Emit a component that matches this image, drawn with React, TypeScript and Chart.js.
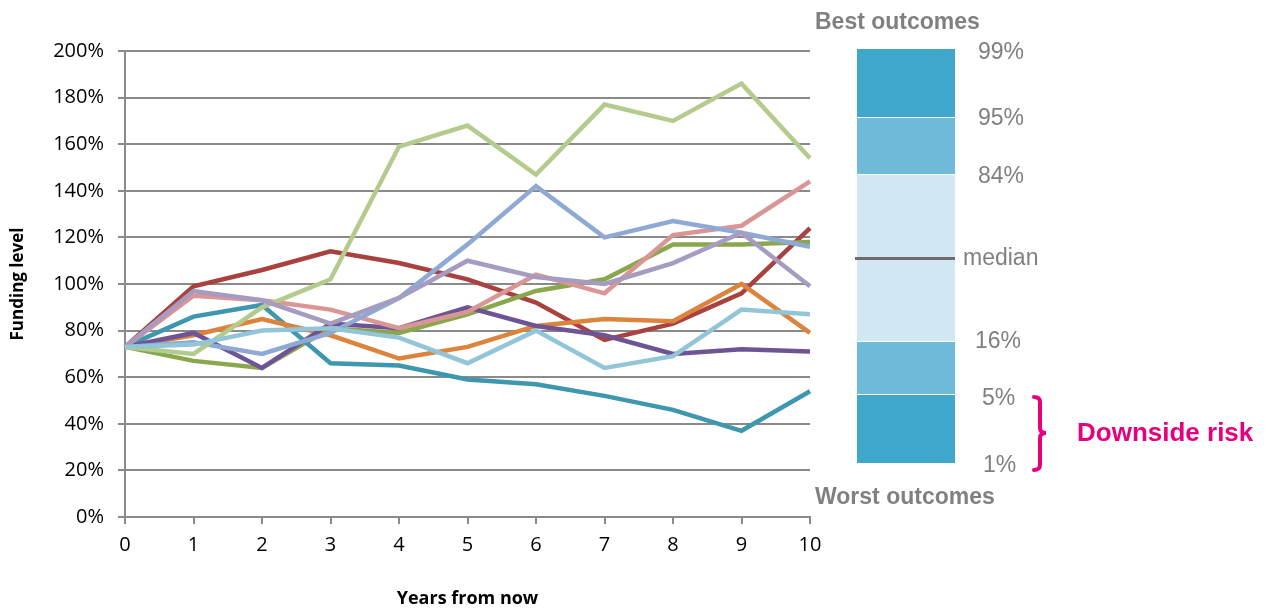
import React, { useEffect, useRef } from "react";
import { Chart, registerables } from "chart.js";

Chart.register(...registerables);

const years = ["0", "1", "2", "3", "4", "5", "6", "7", "8", "9", "10"];

const skyBlue = [73, 74, 80, 81, 77, 66, 80, 64, 69, 89, 87];
const lavender = [73, 97, 93, 83, 94, 110, 103, 100, 109, 122, 99];
const lightGreen = [73, 70, 90, 102, 159, 168, 147, 177, 170, 186, 154];
const periwinkle = [73, 75, 70, 79, 94, 117, 142, 120, 127, 122, 116];
const pink = [73, 95, 93, 89, 81, 88, 104, 96, 121, 125, 144];
const purple = [73, 79, 64, 83, 81, 90, 82, 78, 70, 72, 71];
const orange = [73, 78, 85, 78, 68, 73, 82, 85, 84, 100, 79];
const teal = [73, 86, 91, 66, 65, 59, 57, 52, 46, 37, 54];
const olive = [73, 67, 64, 81, 79, 87, 97, 102, 117, 117, 118];
const darkRed = [73, 99, 106, 114, 109, 102, 92, 76, 83, 96, 124];

const seriesList = [
  { name: "Scenario 10", data: skyBlue, color: "#92C5D8" },
  { name: "Scenario 9", data: lavender, color: "#A69BC1" },
  { name: "Scenario 8", data: lightGreen, color: "#B4CB8D" },
  { name: "Scenario 7", data: periwinkle, color: "#8EA9D3" },
  { name: "Scenario 6", data: pink, color: "#D99695" },
  { name: "Scenario 5", data: purple, color: "#6E5494" },
  { name: "Scenario 4", data: orange, color: "#DC843C" },
  { name: "Scenario 3", data: teal, color: "#3D97AF" },
  { name: "Scenario 2", data: olive, color: "#8AA74E" },
  { name: "Scenario 1", data: darkRed, color: "#A9423F" },
];

const yTicksMax = 200;
const yStep = 20;

const GREY = "#8a8a8a";
const PANEL_GREY = "#808080";
const MAGENTA = "#E6007E";

function capTop(center: number, size: number) {
  return center - 0.4885 * size;
}

const txt = (
  label: string,
  left: number,
  center: number,
  size: number,
  bold: boolean,
  color: string
) => (
  <div
    key={label}
    style={{
      position: "absolute",
      left,
      top: capTop(center, size),
      fontFamily: '"Liberation Sans", Arial, sans-serif',
      fontSize: size,
      lineHeight: size + "px",
      fontWeight: bold ? 700 : 400,
      color,
      whiteSpace: "nowrap",
    }}
  >
    {label}
  </div>
);

export default function App() {
  const canvasRef = useRef<HTMLCanvasElement | null>(null);

  useEffect(() => {
    if (!canvasRef.current) return;
    const chart = new Chart(canvasRef.current, {
      type: "line",
      data: {
        labels: years,
        datasets: seriesList.map((s) => ({
          label: s.name,
          data: s.data,
          borderColor: s.color,
          backgroundColor: s.color,
          borderWidth: 4.5,
          pointRadius: 0,
          tension: 0,
          fill: false,
          borderJoinStyle: "miter" as const,
        })),
      },
      options: {
        animation: false,
        responsive: false,
        devicePixelRatio: 1,
        layout: { padding: { left: 0, top: 51, right: 460, bottom: 0 } },
        plugins: { legend: { display: false }, tooltip: { enabled: false } },
        scales: {
          x: {
            type: "category",
            offset: false,
            grid: {
              drawOnChartArea: false,
              drawTicks: true,
              tickLength: 7,
              color: GREY,
              lineWidth: 2,
            },
            border: { color: GREY, width: 2 },
            ticks: {
              color: "#000",
              font: { family: '"Open Sans", sans-serif', size: 20 },
              padding: 9,
              maxRotation: 0,
              autoSkip: false,
            },
            title: {
              display: true,
              text: "Years from now",
              color: "#000",
              font: { family: '"Open Sans", sans-serif', size: 18, weight: "bold" },
              padding: { top: 0, bottom: 0 },
            },
            afterFit: (s: any) => {
              s.height = 93;
            },
          },
          y: {
            min: 0,
            max: yTicksMax,
            grid: {
              color: GREY,
              lineWidth: 2,
              tickLength: 7,
              drawTicks: true,
            },
            border: { color: GREY, width: 2 },
            ticks: {
              stepSize: yStep,
              color: "#000",
              font: { family: '"Open Sans", sans-serif', size: 20 },
              padding: 14,
              callback: (v: any) => v + "%",
            },
            title: {
              display: true,
              text: "Funding level",
              color: "#000",
              font: { family: '"Open Sans", sans-serif', size: 17, weight: "bold" },
              padding: { top: 8, bottom: 0 },
            },
            afterFit: (s: any) => {
              s.width = 125;
            },
          },
        },
      },
    });
    return () => chart.destroy();
  }, []);

  const barLeft = 857;
  const barWidth = 98;
  const segs = [
    { top: 49, bottom: 117, color: "#3FA6CC" },
    { top: 118, bottom: 174, color: "#6FBAD8" },
    { top: 175, bottom: 341, color: "#D1E8F2" },
    { top: 342, bottom: 394, color: "#6FBAD8" },
    { top: 395, bottom: 463, color: "#3FA6CC" },
  ];

  return (
    <div
      style={{
        position: "absolute",
        left: 0,
        top: 0,
        width: 1270,
        height: 610,
        background: "#fff",
        overflow: "hidden",
      }}
    >
      <canvas
        ref={canvasRef}
        width={1270}
        height={610}
        style={{ display: "block", position: "absolute", left: 0, top: 0 }}
      />
      {segs.map((s, i) => (
        <div
          key={i}
          style={{
            position: "absolute",
            left: barLeft,
            top: s.top,
            width: barWidth,
            height: s.bottom - s.top,
            background: s.color,
          }}
        />
      ))}
      <div
        style={{
          position: "absolute",
          left: 855,
          top: 257,
          width: 100,
          height: 3,
          background: "#6d6d6d",
        }}
      />
      {txt("Best outcomes", 815, 21, 23, true, PANEL_GREY)}
      {txt("Worst outcomes", 815, 496, 23, true, PANEL_GREY)}
      {txt("99%", 978, 51, 23, false, PANEL_GREY)}
      {txt("95%", 978, 117, 23, false, PANEL_GREY)}
      {txt("84%", 978, 175, 23, false, PANEL_GREY)}
      {txt("median", 963, 257, 23, false, PANEL_GREY)}
      {txt("16%", 975, 340, 23, false, PANEL_GREY)}
      {txt("5%", 982, 397, 23, false, PANEL_GREY)}
      {txt("1%", 983, 464, 23, false, PANEL_GREY)}
      {txt("Downside risk", 1077, 432, 26, true, MAGENTA)}
      <svg
        width={1270}
        height={610}
        style={{ position: "absolute", left: 0, top: 0, pointerEvents: "none" }}
      >
        <path
          d="M1034,397 Q1040,397 1040,402 L1040,428 Q1040,433 1046,433 Q1040,433 1040,438 L1040,465 Q1040,470 1034,470"
          fill="none"
          stroke={MAGENTA}
          strokeWidth={4}
          strokeLinecap="round"
        />
      </svg>
    </div>
  );
}
